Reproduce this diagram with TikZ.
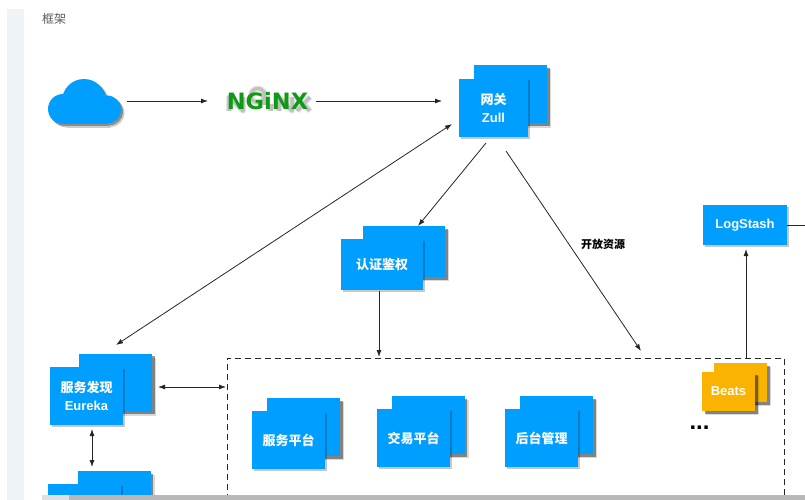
\documentclass[tikz,border=0pt]{standalone}
\usepackage{fontspec}
\setmainfont{Liberation Sans}
\newfontfamily\cjk{Noto Sans CJK SC}
\newfontfamily\logofont{DejaVu Sans}
\usetikzlibrary{shadows,arrows.meta}
\definecolor{cardblue}{HTML}{009EFF}
\definecolor{beatsgold}{HTML}{F9B300}
\definecolor{nginxgreen}{HTML}{0E9A14}
\definecolor{margin}{HTML}{EFF3F8}
\tikzset{
  plain/.style={fill=cardblue,inner sep=0pt,outer sep=0pt,minimum width=73pt,minimum height=58pt,align=center,
    text=white,font=\bfseries\fontsize{13}{17.5}\selectfont},
  card/.style={plain,
    drop shadow={shadow xshift=1.5pt,shadow yshift=-1.5pt,opacity=.22,fill=black}},
  backcard/.style={plain,
    drop shadow={shadow xshift=4pt,shadow yshift=-4pt,opacity=.15,fill=black},
    drop shadow={shadow xshift=2.5pt,shadow yshift=-2.5pt,opacity=.4,fill=black}},
  goldcard/.style={plain,fill=beatsgold,minimum width=53pt,minimum height=39pt,
    drop shadow={shadow xshift=4pt,shadow yshift=-4pt,opacity=.15,fill=black},
    drop shadow={shadow xshift=2.5pt,shadow yshift=-2.5pt,opacity=.4,fill=black}},
  link/.style={draw=black!85,line width=.8pt,-{Latex[length=7pt,width=5pt]}},
  twoway/.style={draw=black!85,line width=.8pt,{Latex[length=7pt,width=5pt]}-{Latex[length=7pt,width=5pt]}}
}
\begin{document}
\begin{tikzpicture}[x=1pt,y=-1pt]
  \useasboundingbox (0,0) rectangle (805,500);
  \fill[white] (0,0) rectangle (805,500);

  % page margin
  \fill[margin] (7,9) rectangle (24,500);
  \node[text=black!65,font=\cjk\fontsize{12}{14}\selectfont] (title) at (54,19) {框架};

  % top row
  \foreach \fillc/\dx in {black!20/3.5,black!45/2,cardblue/0}{
    \begin{scope}[xshift=\dx pt,yshift=-\dx pt]
      \fill[\fillc] (63,109) circle (15pt);
      \fill[\fillc] (84,101) circle (22pt);
      \fill[\fillc] (107,109.5) circle (14pt);
      \fill[\fillc] (63,104) rectangle (107,124);
    \end{scope}
  }
  \node[minimum width=73pt,minimum height=45pt,inner sep=0pt] (cloud) at (84.5,101) {};
  \foreach \wd/\op in {6/.10,3.5/.16}{
    \draw[line width=\wd pt,opacity=\op,line join=round]
      (229,111) -- (229,97) -- (243,111) -- (243,97)
      (264,99) arc (-30:-330:7pt) -- (264,105)
      (271,104) -- (271,111)
      (279,111) -- (279,97) -- (292,111) -- (292,97)
      (297,97) -- (310,111) (310,97) -- (297,111);
  }
  \node[text=nginxgreen,font=\logofont\bfseries\fontsize{22.5}{22}\selectfont,inner sep=0pt] (nginx) at (267.5,101) {NGiNX};

  \node[backcard] (zuulback) at (510.5,94.5) {};
  \node[card,minimum width=69pt] (zuul) at (493.5,108) {{\cjk 网关}\\Zull};

  % middle
  \node[backcard,minimum width=82pt,minimum height=51pt] (authback) at (404,251.5) {};
  \node[card,minimum width=82pt,minimum height=51pt] (auth) at (382,264.5) {\cjk 认证鉴权};
  \node[card,minimum width=84pt,minimum height=40pt] (logstash) at (745,225) {LogStash};
  \node[font=\cjk\bfseries\fontsize{11}{13}\selectfont,inner sep=0pt] (open) at (603,244) {开放资源};

  % services box
  \node[draw=black!85,dash pattern=on 6pt off 4pt,line width=.8pt,minimum width=557pt,minimum height=160pt,inner sep=0pt,outer sep=0pt] (services) at (505.5,438) {};

  \node[backcard] (svcback) at (303.5,427) {};
  \node[card] (svc) at (288.5,440) {\cjk 服务平台};
  \node[backcard] (tradeback) at (428,425) {};
  \node[card] (trade) at (413.5,438) {\cjk 交易平台};
  \node[backcard] (adminback) at (556.5,425) {};
  \node[card] (admin) at (541.5,438) {\cjk 后台管理};
  \node[goldcard] (beatsback) at (740.5,382.5) {};
  \node[goldcard] (beats) at (728.5,391.5) {Beats};
  \node[font=\bfseries\fontsize{24}{24}\selectfont,inner sep=0pt] (more) at (699.5,428) {...};

  % left column
  \node[backcard] (eurekaback) at (115.5,382.5) {};
  \node[card] (eureka) at (86.5,396) {{\cjk 服务发现}\\Eureka};
  \node[backcard] (lowerback) at (114,500) {};
  \node[card] (lower) at (84.5,513) {};

  % free ends
  \coordinate (zuulin) at (452,124);
  \coordinate (eurekain) at (116,345);
  \coordinate (zuulout) at (486,143);
  \coordinate (authin) at (418,226);
  \coordinate (openout) at (506,151);
  \coordinate (openin) at (641,351);
  \coordinate (authout) at (379,291);
  \coordinate (servicesin) at (379,357);
  \coordinate (beatsout) at (746,358);
  \coordinate (login) at (746,249);
  \coordinate (logout) at (805,225);
  \coordinate (cloudout) at (127,101);
  \coordinate (nginxin) at (208,101);
  \coordinate (nginxout) at (316,101);
  \coordinate (zuulleft) at (442,101);
  \coordinate (eurekaright) at (158,387);
  \coordinate (servicesleft) at (226,387);
  \coordinate (eurekadown) at (92,429);
  \coordinate (lowerup) at (92,467);

  \draw[link] (cloudout) -- (nginxin);
  \draw[link] (nginxout) -- (zuulleft);
  \draw[twoway] (zuulin) -- (eurekain);
  \draw[link] (zuulout) -- (authin);
  \draw[link] (openout) -- (openin);
  \draw[link] (authout) -- (servicesin);
  \draw[twoway] (eurekaright) -- (servicesleft);
  \draw[twoway] (eurekadown) -- (lowerup);
  \draw[link] (beatsout) -- (login);
  \draw[draw=black!85,line width=.8pt] (logstash.east) -- (logout);

  % scrollbar
  \fill[black!12] (42,495) rectangle (69,500);
  \fill[black!28] (69,495) rectangle (805,500);
\end{tikzpicture}
\end{document}
